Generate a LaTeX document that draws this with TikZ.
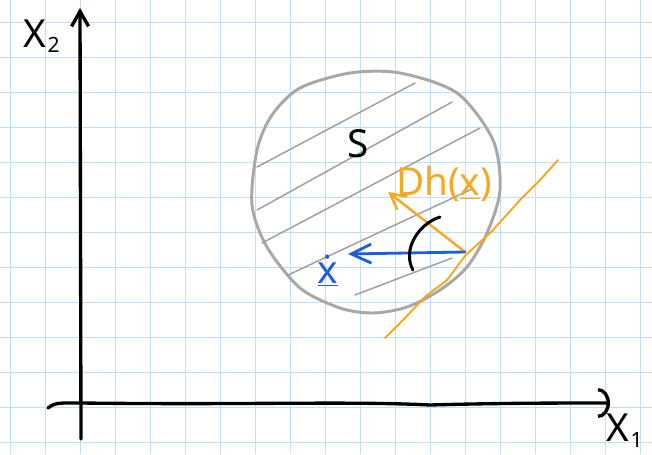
\documentclass[tikz,border=0pt]{standalone}
\usepackage{fontspec}
\setmainfont{Noto Sans}
\usetikzlibrary{arrows.meta}
\definecolor{gridblue}{RGB}{190,222,250}
\definecolor{setgrey}{RGB}{168,168,168}
\definecolor{hatchgrey}{RGB}{160,160,160}
\definecolor{gradorange}{RGB}{246,168,32}
\definecolor{flowblue}{RGB}{30,95,215}

\begin{document}
\begin{tikzpicture}[x=0.02cm,y=-0.02cm,line cap=round,line join=round,
  gridline/.style={draw=gridblue,line width=.55pt},
  axis/.style={draw=black,line width=1.9pt},
  setline/.style={draw=setgrey,line width=1.7pt},
  hatch/.style={draw=hatchgrey,line width=.85pt},
  handtext/.style={inner sep=1pt,font=\fontsize{22}{22}\selectfont}]
\useasboundingbox (0,0) rectangle (652,454);
\foreach \gx in {0,...,18} \draw[gridline] (10+35*\gx,0) -- (10+35*\gx,454);
\foreach \gy in {0,...,12} \draw[gridline] (0,22.5+35*\gy) -- (652,22.5+35*\gy);
\coordinate (ytop) at (80,8);
\coordinate (ybot) at (81,439);
\coordinate (xleft) at (48,408);
\coordinate (xright) at (610,403);
\draw[axis,-{Straight Barb[length=3mm,width=3.4mm]}] (ybot) -- (ytop);
\draw[axis,-{Arc Barb[length=2.4mm,width=6mm]}] (xleft) .. controls (55,402) and (62,403) .. (81,403) .. controls (250,405) and (350,401) .. (430,405) .. controls (500,403) and (560,403) .. (xright);
\node[handtext,anchor=base west] (x2label) at (21,47) {X\kern1pt\raisebox{-3.4pt}{\fontsize{12}{12}\selectfont 2}};
\node[handtext,anchor=base west] (x1label) at (604,441) {X\kern1pt\raisebox{-3.5pt}{\fontsize{12}{12}\selectfont 1}};
\draw[setline] plot[smooth cycle,tension=.5] coordinates {(400,73) (457,93) (493,140) (500,190) (487,233) (467,267) (440,290) (407,307) (373,313) (340,308) (300,288) (267,247) (252,205) (257,150) (272,115) (300,88) (350,73)};
\foreach \a/\b in {{257,167}/{415,83},{257,210}/{452,102},{262,243}/{480,128},{288,275}/{472,189},{355,295}/{452,258}}
  \draw[hatch] (\a) -- (\b);
\node[handtext] (setS) at (358,144) {S};
\coordinate (touch) at (465,252);
\coordinate (gradtip) at (388,192);
\coordinate (flowtip) at (348,254);
\draw[gradorange,line width=1.1pt] plot[smooth,tension=.2] coordinates {(385,338) (404,319) (426,296) (447,280) (465,256) (491,232) (521,199) (540,180) (558,160)};
\draw[gradorange,line width=1.4pt,-{Straight Barb[length=3.1mm,width=3.3mm]}] (touch) -- (gradtip);
\node[handtext,text=gradorange] (gradlabel) at (444,184) {Dh(\underline{x})};
\draw[flowblue,line width=1.6pt,-{Straight Barb[length=4mm,width=3.8mm]}] (touch) -- (flowtip);
\node[handtext,text=flowblue,anchor=base] (xdot) at (328,283) {\underline{ẋ}};
\draw[line width=1.7pt] (440,217) .. controls (418,224) and (402,250) .. (413,270);
\end{tikzpicture}
\end{document}
